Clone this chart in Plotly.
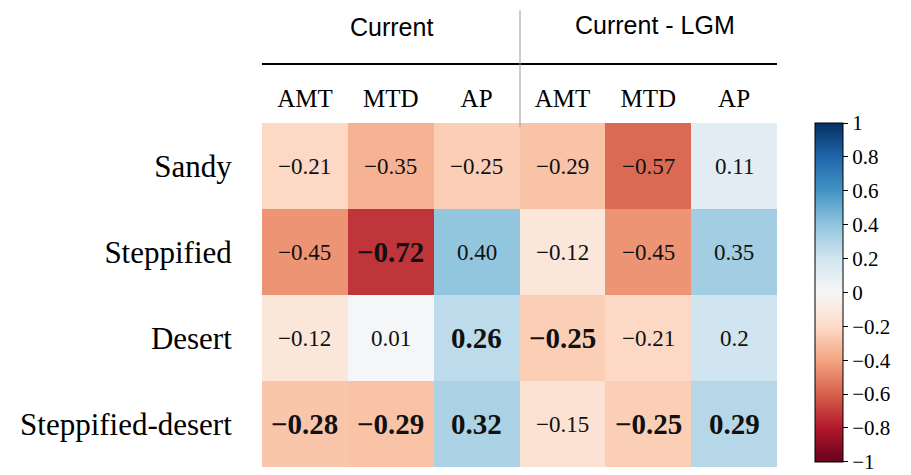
import plotly.graph_objects as go

rows = ["Sandy", "Steppified", "Desert", "Steppified-desert"]
cols = ["AMT", "MTD", "AP", "AMT", "MTD", "AP"]
groups = ["Current", "Current - LGM"]
values = [
    [-0.21, -0.35, -0.25, -0.29, -0.57, 0.11],
    [-0.45, -0.72, 0.40, -0.12, -0.45, 0.35],
    [-0.12, 0.01, 0.26, -0.25, -0.21, 0.20],
    [-0.28, -0.29, 0.32, -0.15, -0.25, 0.29],
]
labels = [
    ["−0.21", "−0.35", "−0.25", "−0.29", "−0.57", "0.11"],
    ["−0.45", "−0.72", "0.40", "−0.12", "−0.45", "0.35"],
    ["−0.12", "0.01", "0.26", "−0.25", "−0.21", "0.2"],
    ["−0.28", "−0.29", "0.32", "−0.15", "−0.25", "0.29"],
]
bold = [
    [0, 0, 0, 0, 0, 0],
    [0, 1, 0, 0, 0, 0],
    [0, 0, 1, 1, 0, 0],
    [1, 1, 1, 0, 1, 1],
]
cb_vals = [1, 0.8, 0.6, 0.4, 0.2, 0, -0.2, -0.4, -0.6, -0.8, -1]
cb_text = ["1", "0.8", "0.6", "0.4", "0.2", "0", "−0.2", "−0.4", "−0.6", "−0.8", "−1"]

rdbu = ['#67001f', '#b2182b', '#d6604d', '#f4a582', '#fddbc7', '#f7f7f7',
        '#d1e5f0', '#92c5de', '#4393c3', '#2166ac', '#053061']
cscale = [[i / 10, c] for i, c in enumerate(rdbu)]

xs = list(range(len(cols)))
fig = go.Figure(go.Heatmap(
    z=values, x=xs, y=rows, zmin=-1.0005, zmax=1.0005, colorscale=cscale,
    xgap=0, ygap=0,
    colorbar=dict(
        x=1.054, xanchor="left", xpad=10, y=0.5075, yanchor="middle", ypad=0,
        len=0.985, lenmode="fraction",
        thickness=28, thicknessmode="pixels", outlinewidth=1, outlinecolor="black",
        tickvals=cb_vals, ticktext=cb_text, ticks="outside", ticklen=5, tickcolor="black",
        ticklabeloverflow="allow",
        tickfont=dict(family="Liberation Serif", size=21, color="black"),
    ),
    hoverinfo="skip",
))

for i, r in enumerate(rows):
    for j in xs:
        b = bold[i][j]
        fig.add_annotation(
            x=j, y=r, xref="x", yref="y", showarrow=False,
            text=f"<b>{labels[i][j]}</b>" if b else labels[i][j],
            font=dict(family="Liberation Serif", size=29 if b else 23, color="#111"),
        )

fig.add_annotation(x=0.252, y=1.279, xref="paper", yref="paper", showarrow=False,
                   xanchor="center", yanchor="middle",
                   text=groups[0], font=dict(family="Liberation Sans", size=25, color="black"))
fig.add_annotation(x=0.763, y=1.285, xref="paper", yref="paper", showarrow=False,
                   xanchor="center", yanchor="middle",
                   text=groups[1], font=dict(family="Liberation Sans", size=25, color="black"))
fig.add_shape(type="line", xref="paper", yref="paper", x0=0, x1=1, y0=1.1715, y1=1.1715,
              line=dict(color="black", width=2))
fig.add_shape(type="line", xref="paper", yref="paper", x0=0.501, x1=0.501, y0=0.988, y1=1.328,
              line=dict(color="#999", width=1))

fig.update_layout(
    width=911, height=475, margin=dict(l=262, r=134, t=123, b=8, autoexpand=False),
    paper_bgcolor="white", plot_bgcolor="white",
    xaxis=dict(side="top", tickvals=xs, ticktext=cols, ticks="outside", ticklen=5,
               tickcolor="rgba(0,0,0,0)", showgrid=False, zeroline=False, showline=False,
               tickfont=dict(family="Liberation Serif", size=25, color="black"),
               range=[-0.5, 5.5]),
    yaxis=dict(autorange="reversed", ticks="outside", ticklen=23, tickcolor="rgba(0,0,0,0)",
               showgrid=False, zeroline=False, showline=False,
               tickfont=dict(family="Liberation Serif", size=31, color="black")),
)
fig.write_html("out.html", config={"displayModeBar": False},
               post_script="document.body.style.margin='0';")
